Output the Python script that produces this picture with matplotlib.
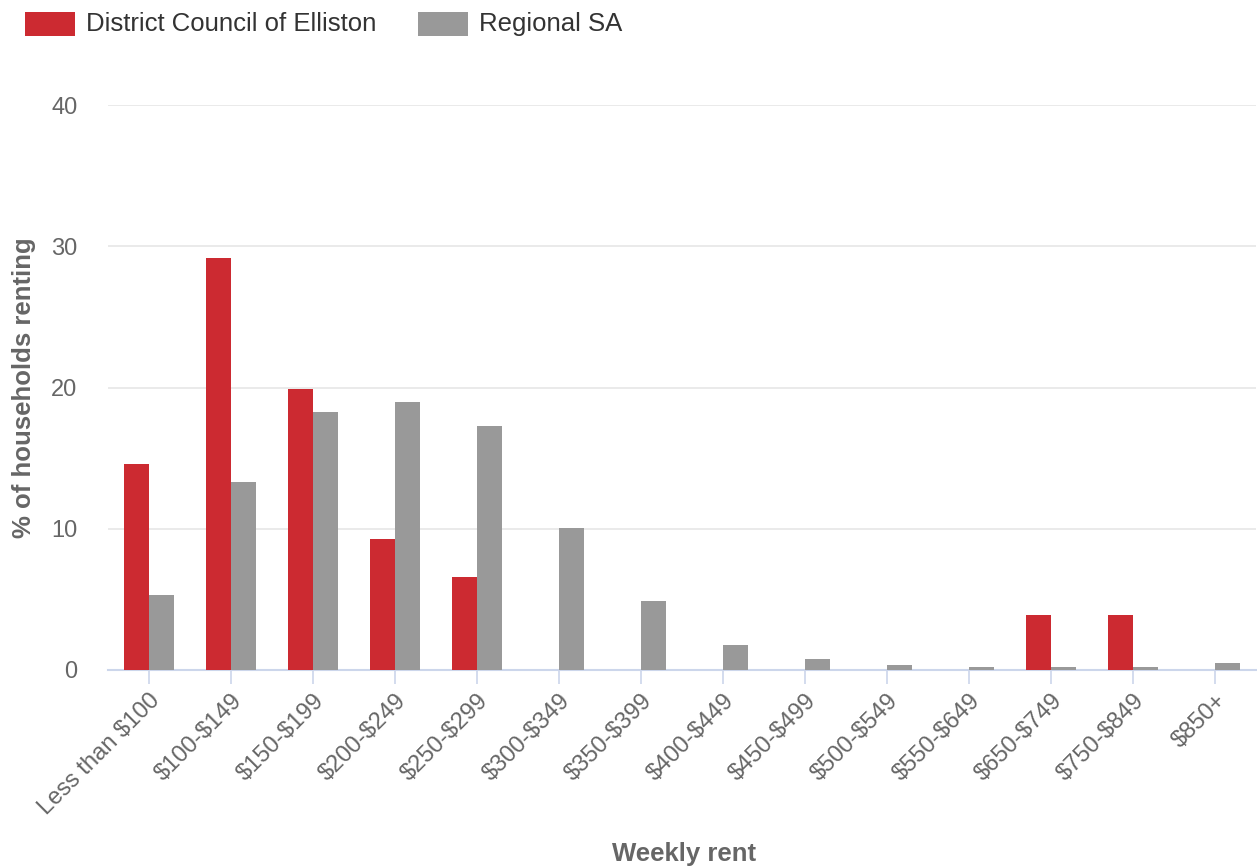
import matplotlib
matplotlib.use("Agg")
import matplotlib.pyplot as plt
from matplotlib.patches import Rectangle
import numpy as np

plt.rcParams['font.family'] = ['Liberation Sans', 'DejaVu Sans']
plt.rcParams['text.parse_math'] = False

categories = ["Less than $100", "$100-$149", "$150-$199", "$200-$249", "$250-$299",
              "$300-$349", "$350-$399", "$400-$449", "$450-$499", "$500-$549",
              "$550-$649", "$650-$749", "$750-$849", "$850+"]
elliston = [14.6, 29.2, 19.9, 9.3, 6.6, 0, 0, 0, 0, 0, 0, 3.9, 3.9, 0]
regional = [5.3, 13.3, 18.3, 19.0, 17.3, 10.05, 4.9, 1.75, 0.76, 0.33, 0.19, 0.19, 0.19, 0.47]
series_names = ["District Council of Elliston", "Regional SA"]
colors = ["#cc2a31", "#999999"]
yticks = [0, 10, 20, 30, 40]

W, H = 1257, 867
fig = plt.figure(figsize=(W / 100, H / 100), dpi=100)
ax = fig.add_axes([108 / W, (H - 670) / H, 1148 / W, (670 - 105) / H])

x = np.arange(len(categories))
bw = 0.31
ax.bar(x - bw / 2, elliston, width=bw, color=colors[0], linewidth=0, zorder=3)
ax.bar(x + bw / 2, regional, width=bw, color=colors[1], linewidth=0, zorder=3)

ax.set_xlim(-0.5, len(categories) - 0.5)
ax.set_ylim(0, 40)
ax.set_yticks(yticks)
ax.set_yticklabels([str(v) for v in yticks])
ax.yaxis.grid(True, color="#e6e6e6", linewidth=1.2, zorder=0)
ax.set_axisbelow(True)

for s in ["top", "right", "left"]:
    ax.spines[s].set_visible(False)
ax.spines["bottom"].set_color("#ccd6eb")
ax.spines["bottom"].set_linewidth(1.5)

ax.tick_params(axis="y", length=0, pad=22, labelsize=17, labelcolor="#666666")
ax.tick_params(axis="x", length=10, width=1.2, color="#ccd6eb", pad=4,
               labelsize=17, labelcolor="#666666")
ax.set_xticks(x)
ax.set_xticklabels(categories, rotation=45, ha="right", rotation_mode="anchor")

ax.set_xlabel("Weekly rent", fontsize=18.5, fontweight="bold", color="#666666")
ax.xaxis.set_label_coords((684 - 108) / 1148, -(842 - 670) / (670 - 105))
ax.set_ylabel("% of households renting", fontsize=18.5, fontweight="bold", color="#666666")
ax.yaxis.set_label_coords(-(108 - 36) / 1148, (670 - 388) / (670 - 105))

# legend
leg_items = [(25, 86), (418, 479)]
for (rx, tx), name, c in zip(leg_items, series_names, colors):
    fig.patches.append(Rectangle((rx / W, 1 - 36 / H), 50 / W, 24 / H,
                                 transform=fig.transFigure, color=c, linewidth=0))
    fig.text(tx / W, 1 - 24 / H, name, fontsize=18.5, color="#333333", va="center", ha="left")

fig.savefig("out.png", dpi=100)
